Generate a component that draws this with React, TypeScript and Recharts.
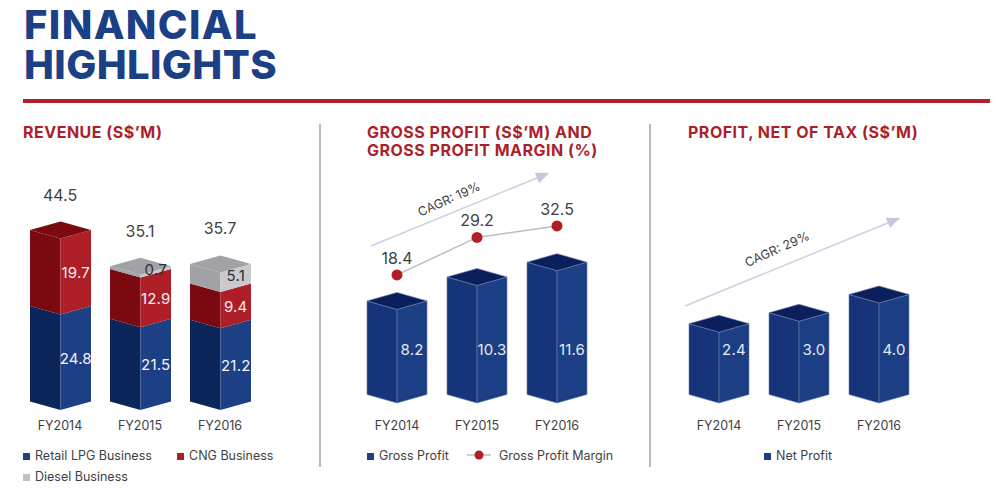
import { Bar, ComposedChart, LabelList, Line, XAxis, YAxis } from 'recharts'

const years = ['FY2014', 'FY2015', 'FY2016']
const lpg = [24.8, 21.5, 21.2]
const cng = [19.7, 12.9, 9.4]
const diesel = [0, 0.7, 5.1]
const revenueTotals = [44.5, 35.1, 35.7]
const grossProfit = [8.2, 10.3, 11.6]
const grossMargin = [18.4, 29.2, 32.5]
const netProfit = [2.4, 3.0, 4.0]

const revenueData = years.map((year, i) => ({ year, lpg: lpg[i], cng: cng[i], diesel: diesel[i], total: revenueTotals[i] }))
const grossData = years.map((year, i) => ({ year, profit: grossProfit[i], margin: grossMargin[i] }))
const netData = years.map((year, i) => ({ year, profit: netProfit[i] }))

const FONT = 'Inter, "Noto Sans", sans-serif'
const TEXT = '#3f3f42'
const BLUE = { left: '#0b2459', right: '#1c3f85', top: '#0b2459' }
const SOLID = { left: '#15347a', right: '#1b3e85', top: '#0a1f5c' }
const RED = { left: '#7b0a10', right: '#ad1e27', top: '#7b0a10' }
const GREY = { left: '#a1a2a5', right: '#c9cacc', top: '#a1a2a5' }

const fmt = (v: number) => v.toFixed(1)

function Box({ x, width, yTop, yBottom, colors, capped, edge, d = 8.5 }: any) {
  const cx = x + width / 2
  const r = x + width
  return (
    <g stroke={edge ?? 'none'} strokeWidth={edge ? 0.6 : 0}>
      <polygon points={`${x},${yTop - d} ${cx},${yTop} ${cx},${yBottom} ${x},${yBottom - d}`} fill={colors.left} />
      <polygon points={`${cx},${yTop} ${r},${yTop - d} ${r},${yBottom - d} ${cx},${yBottom}`} fill={colors.right} />
      {capped && (
        <polygon points={`${x},${yTop - d} ${cx},${yTop - 2 * d} ${r},${yTop - d} ${cx},${yTop}`} fill={colors.top} />
      )}
    </g>
  )
}

function stackShape(key: 'lpg' | 'cng' | 'diesel', colors: any, labelColor: string) {
  return (props: any) => {
    const { x, y, width, height, payload } = props
    const value = payload[key]
    if (!value) return <g />
    const capped = key === 'diesel' || (key === 'cng' && !payload.diesel)
    const mid = y + height / 2 - 4
    return (
      <g>
        <Box x={x} width={width} yTop={y} yBottom={y + height} colors={colors} capped={capped} />
        <text
          x={x + width * 0.75}
          y={key === 'diesel' ? mid - 3 : mid}
          textAnchor="middle"
          dominantBaseline="central"
          fontFamily={FONT}
          fontSize={15}
          letterSpacing={0.2}
          fill={labelColor}
        >
          {fmt(value)}
        </text>
      </g>
    )
  }
}

// bars in the two right panels sit on the plot floor, value label at a fixed height
function solidShape(floor: number) {
  return (props: any) => {
    const { x, y, width, payload } = props
    return (
      <g>
        <Box x={x} width={width} yTop={y} yBottom={floor} colors={SOLID} capped edge="#6d80ad" />
        <text
          x={x + width * 0.75}
          y={floor - 54}
          textAnchor="middle"
          dominantBaseline="central"
          fontFamily={FONT}
          fontSize={15}
          letterSpacing={0.2}
          fill="#e6e9f2"
        >
          {fmt(payload.profit)}
        </text>
      </g>
    )
  }
}

const tickStyle = { fill: TEXT, fontSize: 12.5, fontFamily: FONT }

function Square({ color, x, y }: { color: string; x: number; y: number }) {
  return <div style={{ position: 'absolute', left: x, top: y - 3.5, width: 7, height: 7, background: color }} />
}

function Caption({ x, y, children }: any) {
  return (
    <div style={{ position: 'absolute', left: x, top: y - 9, lineHeight: '18px', fontSize: 12.5, color: TEXT, whiteSpace: 'nowrap' }}>
      {children}
    </div>
  )
}

function Heading({ x, y, children }: any) {
  return (
    <div style={{ position: 'absolute', left: x, top: y - 9, lineHeight: '18px', fontSize: 16, letterSpacing: 0.5, fontWeight: 700, color: '#ab1f2b', whiteSpace: 'nowrap' }}>
      {children}
    </div>
  )
}

function TitleLine({ y, spacing, children }: any) {
  return (
    <div style={{ position: 'absolute', left: 24, top: y - 20, fontSize: 40, lineHeight: '40px', fontWeight: 800, color: '#1c3f85', letterSpacing: spacing, whiteSpace: 'nowrap' }}>
      {children}
    </div>
  )
}

function Arrow({ x1, y1, x2, y2, label, lx, ly }: any) {
  const a = Math.atan2(y2 - y1, x2 - x1)
  const deg = (a * 180) / Math.PI
  return (
    <g>
      <line x1={x1} y1={y1} x2={x2 - 10 * Math.cos(a)} y2={y2 - 10 * Math.sin(a)} stroke="#cfcfe4" strokeWidth={1.5} />
      <polygon points="0,0 -13,-5.5 -13,5.5" fill="#c6c6de" transform={`translate(${x2},${y2}) rotate(${deg})`} />
      <text x={lx} y={ly} textAnchor="middle" dominantBaseline="central" fontFamily={FONT} fontSize={12.5} fill={TEXT} transform={`rotate(-24 ${lx} ${ly})`}>
        {label}
      </text>
    </g>
  )
}

export default function App() {
  return (
    <div style={{ position: 'absolute', left: 0, top: 0, width: 1008, height: 489, background: '#fff', overflow: 'hidden', fontFamily: FONT }}>
      <TitleLine y={25} spacing={1.4}>FINANCIAL</TitleLine>
      <TitleLine y={65} spacing={0.4}>HIGHLIGHTS</TitleLine>
      <div style={{ position: 'absolute', left: 23, top: 99, width: 967, height: 4, background: '#b0202b' }} />
      <div style={{ position: 'absolute', left: 319, top: 124, width: 1.5, height: 343, background: '#b9b9c4' }} />
      <div style={{ position: 'absolute', left: 649, top: 124, width: 1.5, height: 343, background: '#b9b9c4' }} />

      <Heading x={23} y={132}>REVENUE (S$’M)</Heading>
      <Heading x={367} y={132}>GROSS PROFIT (S$’M) AND</Heading>
      <Heading x={367} y={150}>GROSS PROFIT MARGIN (%)</Heading>
      <Heading x={688} y={132}>PROFIT, NET OF TAX (S$’M)</Heading>

      <div style={{ position: 'absolute', left: 20, top: 170 }}>
        <ComposedChart width={240} height={280} data={revenueData} margin={{ top: 0, right: 0, bottom: 0, left: 0 }}>
          <XAxis dataKey="year" height={40} axisLine={false} tickLine={false} tick={tickStyle} tickMargin={5} interval={0} />
          <YAxis hide domain={[0, 62.3]} />
          <Bar dataKey="lpg" stackId="rev" barSize={61} isAnimationActive={false} shape={stackShape('lpg', BLUE, '#f4f5f9')} />
          <Bar dataKey="cng" stackId="rev" barSize={61} isAnimationActive={false} shape={stackShape('cng', RED, '#f7eef0')} />
          <Bar dataKey="diesel" stackId="rev" barSize={61} isAnimationActive={false} shape={stackShape('diesel', GREY, '#2e2e30')} />
          <Line dataKey="total" stroke="none" dot={false} activeDot={false} isAnimationActive={false}>
            <LabelList dataKey="total" position="top" offset={38} fontFamily={FONT} fontSize={16} fill={TEXT} formatter={(v: any) => fmt(v)} />
          </Line>
        </ComposedChart>
      </div>

      <div style={{ position: 'absolute', left: 357, top: 160 }}>
        <ComposedChart width={240} height={283} data={grossData} margin={{ top: 0, right: 0, bottom: 0, left: 0 }}>
          <XAxis dataKey="year" height={40} axisLine={false} tickLine={false} tick={tickStyle} tickMargin={12} interval={0} />
          <YAxis yAxisId="profit" hide domain={[0, 21.3]} />
          <YAxis yAxisId="margin" hide orientation="right" domain={[-18.5, 51.5]} />
          <Bar yAxisId="profit" dataKey="profit" barSize={60} isAnimationActive={false} shape={solidShape(243)} />
          <Line
            yAxisId="margin"
            dataKey="margin"
            stroke="#bdbdbd"
            strokeWidth={1.5}
            dot={{ r: 5.5, fill: '#b01e28', stroke: '#b01e28', strokeWidth: 0 }}
            isAnimationActive={false}
          >
            <LabelList dataKey="margin" position="top" offset={11} fontFamily={FONT} fontSize={16} fill={TEXT} formatter={(v: any) => fmt(v)} />
          </Line>
        </ComposedChart>
      </div>

      <div style={{ position: 'absolute', left: 679, top: 200 }}>
        <ComposedChart width={240} height={243} data={netData} margin={{ top: 0, right: 0, bottom: 0, left: 0 }}>
          <XAxis dataKey="year" height={40} axisLine={false} tickLine={false} tick={tickStyle} tickMargin={12} interval={0} />
          <YAxis hide domain={[-1.48, 9.64]} />
          <Bar dataKey="profit" barSize={60} isAnimationActive={false} shape={solidShape(203)} />
        </ComposedChart>
      </div>

      <svg width={1008} height={489} style={{ position: 'absolute', left: 0, top: 0, pointerEvents: 'none' }}>
        <Arrow x1={371} y1={246} x2={549} y2={173} label="CAGR: 19%" lx={449} ly={199} />
        <Arrow x1={685} y1={306} x2={900} y2={218} label="CAGR: 29%" lx={777} ly={249} />
        <line x1={467} y1={455} x2={491} y2={455} stroke="#bdbdbd" strokeWidth={1.5} />
        <circle cx={479} cy={455} r={4.5} fill="#b01e28" />
      </svg>

      <Square color="#1c3f85" x={23} y={456} />
      <Caption x={35} y={456}>Retail LPG Business</Caption>
      <Square color="#ad1e27" x={177} y={456} />
      <Caption x={189} y={456}>CNG Business</Caption>
      <Square color="#c0c1c3" x={23} y={477} />
      <Caption x={35} y={477}>Diesel Business</Caption>
      <Square color="#1c3f85" x={367} y={456} />
      <Caption x={379} y={456}>Gross Profit</Caption>
      <Caption x={499} y={456}>Gross Profit Margin</Caption>
      <Square color="#1c3f85" x={764} y={456} />
      <Caption x={776} y={456}>Net Profit</Caption>
    </div>
  )
}
